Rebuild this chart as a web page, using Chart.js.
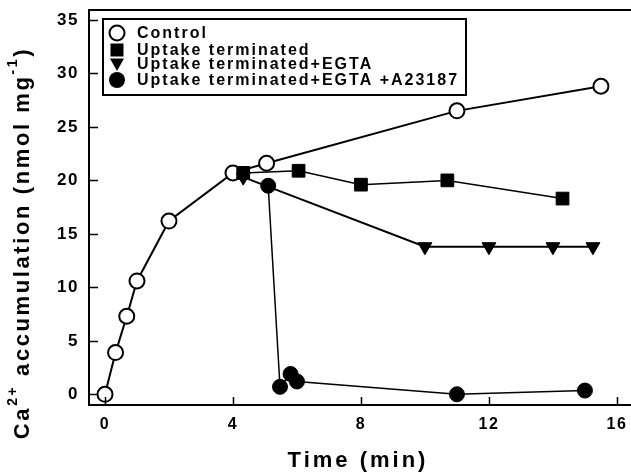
<!DOCTYPE html>
<html>
<head>
<meta charset="utf-8">
<script src="https://cdn.jsdelivr.net/npm/chart.js@4"></script>
<style>
html, body { margin: 0; padding: 0; background: #fff; }
</style>
</head>
<body>
<canvas id="caChart" width="631" height="473"></canvas>
<script>
// series names, as in the legend
const seriesNames = ["Control", "Uptake terminated", "Uptake terminated+EGTA", "Uptake terminated+EGTA +A23187"];

// Control
const controlTime = [0, 0.33, 0.68, 1.0, 2.0, 4.0, 5.05, 11.0, 15.5];
const controlCa = [0, 3.9, 7.3, 10.6, 16.2, 20.7, 21.6, 26.5, 28.8];
// Uptake terminated
const stopTime = [4.32, 6.05, 8.0, 10.7, 14.3];
const stopCa = [20.7, 20.9, 19.6, 20.0, 18.3];
// Uptake terminated + EGTA
const egtaTime = [4.32, 10.0, 12.0, 14.0, 15.25];
const egtaCa = [20.3, 13.8, 13.8, 13.8, 13.8];
// Uptake terminated + EGTA + A23187
const ionTime = [5.1, 5.47, 5.8, 6.0, 11.0, 15.0];
const ionCa = [19.5, 0.7, 1.9, 1.2, 0.0, 0.35];

const xTicks = [0, 4, 8, 12, 16];
const yTicks = [0, 5, 10, 15, 20, 25, 30, 35];

const FONT = "'Liberation Sans', Arial, sans-serif";

function pts(xs, ys) {
    return xs.map((x, i) => ({ x: x, y: ys[i] }));
}

// extra drawing: white page, top frame line, inward ticks, titles, boxed legend
const framePlugin = {
    id: "frame",
    beforeDraw(chart) {
        const ctx = chart.ctx;
        ctx.save();
        ctx.fillStyle = "#fff";
        ctx.fillRect(0, 0, chart.width, chart.height);
        ctx.restore();
        ctx.letterSpacing = "1.5px";
    },
    afterDraw(chart) {
        const ctx = chart.ctx;
        const a = chart.chartArea;
        const xs = chart.scales.x, ys = chart.scales.y;
        ctx.save();
        ctx.letterSpacing = "0px";
        ctx.strokeStyle = "#000";
        ctx.lineWidth = 2;
        ctx.beginPath();
        ctx.moveTo(a.left - 1, a.top);
        ctx.lineTo(a.right, a.top);
        ctx.stroke();

        // inward tick marks
        ctx.lineWidth = 1.5;
        ctx.beginPath();
        xs.ticks.forEach(t => {
            const px = Math.round(xs.getPixelForValue(t.value)) + 0.5;
            ctx.moveTo(px, a.bottom);
            ctx.lineTo(px, a.bottom - 8);
        });
        ys.ticks.forEach(t => {
            const py = Math.round(ys.getPixelForValue(t.value)) + 0.5;
            ctx.moveTo(a.left, py);
            ctx.lineTo(a.left + 9, py);
        });
        ctx.stroke();

        ctx.fillStyle = "#000";
        ctx.textBaseline = "middle";

        // x title
        ctx.font = "bold 22px " + FONT;
        ctx.letterSpacing = "3px";
        ctx.textAlign = "center";
        ctx.fillText("Time (min)", 358, 461);

        // y title with superscripts
        const parts = [
            { t: "Ca", sup: false },
            { t: "2+", sup: true },
            { t: " accumulation (nmol mg", sup: false },
            { t: "-1", sup: true },
            { t: ")", sup: false }
        ];
        const mainFont = "bold 22px " + FONT;
        const supFont = "bold 14px " + FONT;
        ctx.letterSpacing = "2.6px";
        let total = 0;
        parts.forEach(p => {
            ctx.font = p.sup ? supFont : mainFont;
            p.w = ctx.measureText(p.t).width;
            total += p.w;
        });
        ctx.translate(23, 243);
        ctx.rotate(-Math.PI / 2);
        ctx.textAlign = "left";
        let cx = -total / 2;
        parts.forEach(p => {
            ctx.font = p.sup ? supFont : mainFont;
            ctx.fillText(p.t, cx, p.sup ? -10 : 0);
            cx += p.w;
        });
        ctx.setTransform(1, 0, 0, 1, 0, 0);

        // legend box
        ctx.lineWidth = 2;
        ctx.strokeRect(103, 19, 363, 76);
        const rows = [33, 50, 64, 80];
        const mx = 117;
        ctx.font = "bold 16px " + FONT;
        ctx.letterSpacing = "2px";
        ctx.textAlign = "left";
        seriesNames.forEach((name, i) => {
            const my = rows[i];
            ctx.beginPath();
            if (i === 0) {
                ctx.arc(mx, my, 7.5, 0, Math.PI * 2);
                ctx.fillStyle = "#fff";
                ctx.fill();
                ctx.lineWidth = 2;
                ctx.stroke();
            } else if (i === 1) {
                ctx.rect(mx - 6.5, my - 6.5, 13, 13);
                ctx.fillStyle = "#000";
                ctx.fill();
            } else if (i === 2) {
                ctx.moveTo(mx - 7, my - 5.5);
                ctx.lineTo(mx + 7, my - 5.5);
                ctx.lineTo(mx, my + 7);
                ctx.closePath();
                ctx.fillStyle = "#000";
                ctx.fill();
            } else {
                ctx.arc(mx, my, 8, 0, Math.PI * 2);
                ctx.fillStyle = "#000";
                ctx.fill();
            }
            ctx.fillStyle = "#000";
            ctx.fillText(name, 137, my + 1);
        });
        ctx.restore();
    }
};

const ctx = document.getElementById("caChart").getContext("2d");

const caChart = new Chart(ctx, {
    type: "scatter",
    data: {
        datasets: [
            {
                label: seriesNames[3],
                data: pts(ionTime, ionCa),
                showLine: true,
                borderColor: "#000",
                borderWidth: 1.5,
                pointStyle: "circle",
                pointRadius: 7.5,
                pointBackgroundColor: "#000",
                pointBorderColor: "#000",
                pointBorderWidth: 1,
                order: 1
            },
            {
                label: seriesNames[2],
                data: pts(egtaTime, egtaCa),
                showLine: true,
                borderColor: "#000",
                borderWidth: 2,
                pointStyle: "triangle",
                pointRotation: 180,
                pointRadius: 8,
                pointBackgroundColor: "#000",
                pointBorderColor: "#000",
                pointBorderWidth: 1,
                order: 2
            },
            {
                label: seriesNames[1],
                data: pts(stopTime, stopCa),
                showLine: true,
                borderColor: "#000",
                borderWidth: 1.5,
                pointStyle: "rect",
                pointRadius: 9,
                pointBackgroundColor: "#000",
                pointBorderColor: "#000",
                pointBorderWidth: 1,
                order: 3
            },
            {
                label: seriesNames[0],
                data: pts(controlTime, controlCa),
                showLine: true,
                borderColor: "#000",
                borderWidth: 2,
                pointStyle: "circle",
                pointRadius: 7.5,
                pointBackgroundColor: "#fff",
                pointBorderColor: "#000",
                pointBorderWidth: 2,
                order: 4
            }
        ]
    },
    options: {
        responsive: false,
        animation: false,
        layout: { autoPadding: false, padding: { top: 10, right: 0, bottom: 0, left: 0 } },
        plugins: {
            legend: { display: false },
            tooltip: { enabled: false }
        },
        scales: {
            x: {
                type: "linear",
                min: -0.5,
                max: 16.44,
                afterBuildTicks: s => { s.ticks = xTicks.map(v => ({ value: v })); },
                afterFit: s => { s.height = 68; s.paddingRight = 0; s.paddingLeft = 0; },
                grid: { display: false, drawTicks: false },
                border: { display: true, color: "#000", width: 2 },
                ticks: {
                    color: "#000",
                    padding: 10,
                    maxRotation: 0,
                    font: { family: FONT, size: 16, weight: "bold" }
                }
            },
            y: {
                type: "linear",
                min: -1,
                max: 35.93,
                afterBuildTicks: s => { s.ticks = yTicks.map(v => ({ value: v })); },
                afterFit: s => { s.width = 89; s.paddingTop = 0; s.paddingBottom = 0; },
                grid: { display: false, drawTicks: false },
                border: { display: true, color: "#000", width: 2 },
                ticks: {
                    color: "#000",
                    padding: 10,
                    font: { family: FONT, size: 17, weight: "bold" }
                }
            }
        }
    },
    plugins: [framePlugin]
});
</script>
</body>
</html>
